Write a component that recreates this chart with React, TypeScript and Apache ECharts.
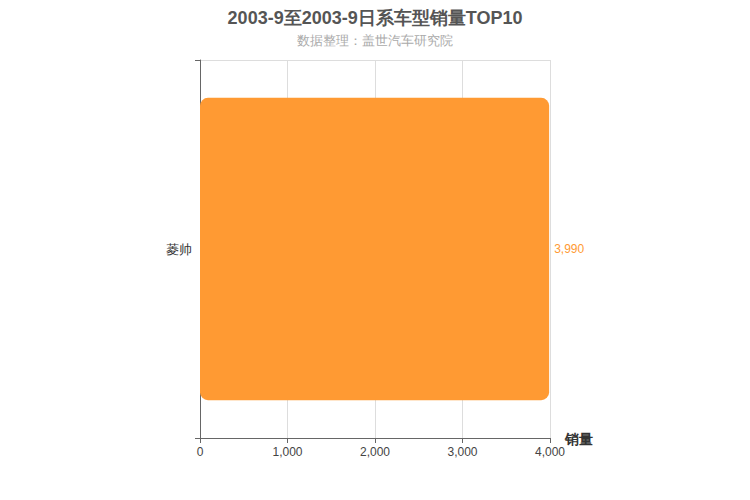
import React, { useEffect, useRef } from "react";
import * as echarts from "echarts";

const categories = ["菱帅"];
const sales = [3990];
const xTicks = { min: 0, max: 4000, interval: 1000 };

const App: React.FC = () => {
	const chartRef = useRef<HTMLDivElement>(null);

	useEffect(() => {
		document.body.style.margin = "0";
		if (!chartRef.current) return;
		const chart = echarts.init(chartRef.current, undefined, { renderer: "svg" });
		chart.setOption({
			animation: false,
			textStyle: { fontFamily: "Liberation Sans, Arial, sans-serif" },
			title: {
				text: "2003-9至2003-9日系车型销量TOP10",
				subtext: "数据整理：盖世汽车研究院",
				left: "center",
				top: 4,
				itemGap: 7,
				textStyle: { fontSize: 18, fontWeight: "bold", color: "#555" },
				subtextStyle: { fontSize: 13, color: "#aaa" },
			},
			grid: { left: 200, right: 200, top: 60, bottom: 62 },
			xAxis: {
				type: "value",
				min: xTicks.min,
				max: xTicks.max,
				interval: xTicks.interval,
				name: "销量",
				nameGap: 15,
				nameTextStyle: { fontSize: 14, fontWeight: "bold", color: "#333", verticalAlign: "bottom", padding: [0, 0, -8, 0] },
				axisLine: { show: true, lineStyle: { color: "#666" } },
				axisTick: { show: true, lineStyle: { color: "#666" } },
				axisLabel: { color: "#444", fontSize: 12 },
				splitLine: { show: true, lineStyle: { color: "#ddd" } },
			},
			yAxis: {
				type: "category",
				data: categories,
				axisLine: { show: true, lineStyle: { color: "#666" } },
				axisTick: { show: true, lineStyle: { color: "#666" } },
				axisLabel: { color: "#333", fontSize: 13 },
				splitLine: { show: true, lineStyle: { color: "#ddd" } },
			},
			series: [
				{
					type: "bar",
					data: sales,
					barWidth: "80%",
					itemStyle: { color: "#ff9a33", borderRadius: 8 },
					label: {
						show: true,
						position: "right",
						color: "#ff9a33",
						fontSize: 12,
						formatter: (p: any) => p.value.toLocaleString("en-US"),
					},
				},
			],
		});
		return () => chart.dispose();
	}, []);

	return <div ref={chartRef} style={{ width: 750, height: 500 }} />;
};

export default App;
